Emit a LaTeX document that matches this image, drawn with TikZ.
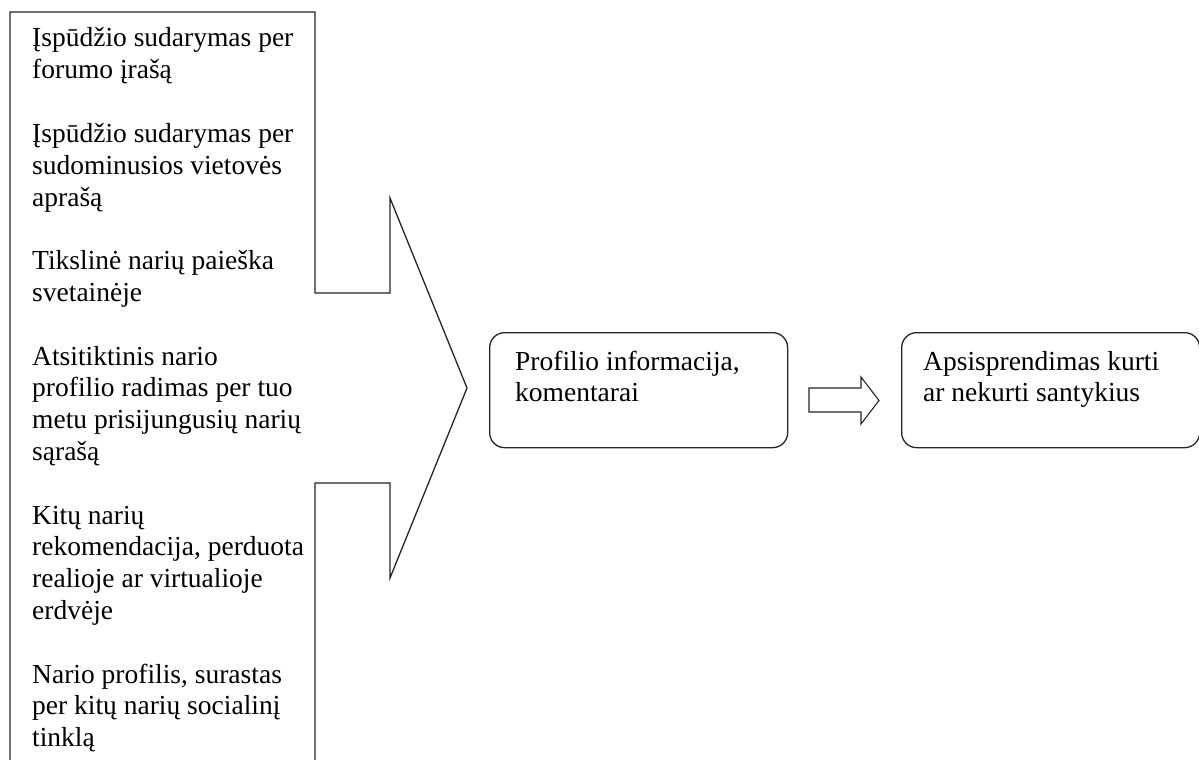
\documentclass[tikz,border=0pt]{standalone}
\usepackage{fontspec}
\setmainfont{Liberation Serif}
\newcommand\itemlines[1]{\begin{tabular}[t]{@{}l@{}}#1\end{tabular}}
\begin{document}
\begin{tikzpicture}[x=1pt,y=-1pt,
  outline/.style={draw=black!85, line width=1.3pt, line join=miter},
  txt/.style={anchor=base west, inner sep=0pt, font=\fontsize{27.5}{31.8}\selectfont},
  roundbox/.style={outline, rounded corners=15pt, minimum width=298pt, minimum height=115pt, inner sep=0pt, anchor=north west}]
  \useasboundingbox (0,0) rectangle (1199,760);
  \clip (0,0) rectangle (1199,760);
  \fill[white] (0,0) rectangle (1199,760);

  % callout: tall list box with an arrow head pointing right
  \draw[outline] (10,12) -- (315,12) -- (315,293) -- (390,293) -- (390,198)
    -- (467,388) -- (390,578) -- (390,483) -- (315,483) -- (315,800)
    -- (10,800) -- cycle;

  % entries of the list
  \node[txt] (p1) at (32,47)    {\itemlines{Įspūdžio sudarymas per\\ forumo įrašą}};
  \node[txt] (p2) at (32,142.4) {\itemlines{Įspūdžio sudarymas per\\ sudominusios vietovės\\ aprašą}};
  \node[txt] (p3) at (32,269.6) {\itemlines{Tikslinė narių paieška\\ svetainėje}};
  \node[txt] (p4) at (32,365)   {\itemlines{Atsitiktinis nario\\ profilio radimas per tuo\\ metu prisijungusių narių\\ sąrašą}};
  \node[txt] (p5) at (32,524)   {\itemlines{Kitų narių\\ rekomendacija, perduota\\ realioje ar virtualioje\\ erdvėje}};
  \node[txt] (p6) at (32,683)   {\itemlines{Nario profilis, surastas\\ per kitų narių socialinį\\ tinklą}};

  % rounded boxes
  \node[roundbox] (prof) at (489,332) {};
  \node[txt] (proftext) at (515,370) {\itemlines{Profilio informacija,\\ komentarai}};

  \node[roundbox] (dec) at (901,332) {};
  \node[txt] (dectext) at (923,370) {\itemlines{Apsisprendimas kurti\\ ar nekurti santykius}};

  % block arrow between the boxes
  \draw[outline, line width=1.1pt] (809,388) -- (861,388) -- (861,377) -- (879,400.5)
    -- (861,424) -- (861,412) -- (809,412) -- cycle;
\end{tikzpicture}
\end{document}
